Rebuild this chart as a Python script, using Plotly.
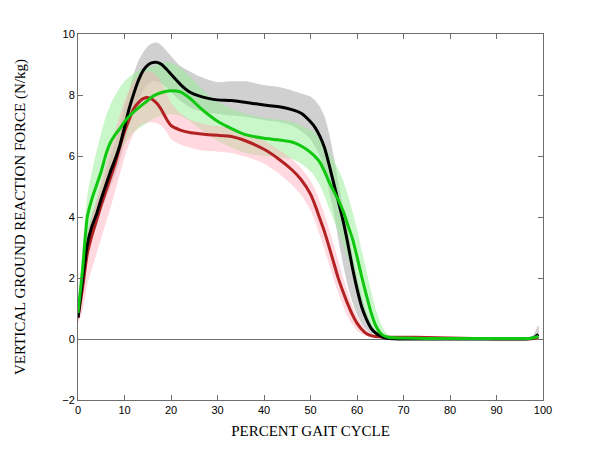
import plotly.graph_objects as go

# Percent gait cycle sample points
gait_pct = [0, 1, 2, 3, 4, 5, 6, 7, 8, 9, 10, 11, 12, 13, 14, 15, 16, 17, 18, 19, 20,
            22, 24, 26, 28, 30, 33, 36, 40, 43, 46, 48, 50,
            51, 52, 53, 54, 55, 56, 57, 58, 59, 60, 61, 62, 63, 64, 65, 66, 67, 68,
            70, 75, 80, 85, 90, 95, 97, 98, 99]

# Black group (mean, upper, lower)
black_mean = [0.7, 1.95, 3.1, 3.7, 4.1, 4.6, 5.05, 5.5, 5.9, 6.35, 6.95, 7.55, 8.05, 8.48, 8.8, 8.98, 9.06, 9.07, 9.0, 8.85, 8.68,
              8.35, 8.1, 7.97, 7.89, 7.84, 7.82, 7.76, 7.67, 7.62, 7.52, 7.4, 7.12,
              6.93, 6.65, 6.28, 5.72, 5.1, 4.5, 3.88, 3.15, 2.35, 1.65, 1.06, 0.66, 0.36, 0.2, 0.1, 0.04, 0.02, 0.01,
              0.0, 0.0, 0.0, 0.0, 0.0, 0.0, 0.01, 0.04, 0.15]
black_upper = [0.9, 2.3, 3.5, 4.1, 4.5, 5.0, 5.5, 6.0, 6.45, 7.0, 7.6, 8.15, 8.7, 9.12, 9.4, 9.6, 9.7, 9.72, 9.62, 9.45, 9.28,
               8.95, 8.78, 8.62, 8.5, 8.42, 8.45, 8.45, 8.33, 8.27, 8.15, 8.05, 7.95,
               7.82, 7.62, 7.3, 6.75, 6.0, 5.15, 4.35, 3.6, 2.8, 2.05, 1.4, 0.9, 0.52, 0.27, 0.13, 0.06, 0.03, 0.02,
               0.01, 0.01, 0.01, 0.01, 0.01, 0.02, 0.05, 0.15, 0.45]
black_lower = [0.55, 1.6, 2.7, 3.3, 3.7, 4.2, 4.6, 5.0, 5.4, 5.85, 6.4, 6.95, 7.42, 7.82, 8.15, 8.35, 8.45, 8.45, 8.38, 8.25, 8.1,
               7.8, 7.6, 7.48, 7.42, 7.38, 7.33, 7.29, 7.18, 7.12, 7.0, 6.82, 6.55,
               6.3, 6.0, 5.55, 4.85, 4.15, 3.25, 2.45, 1.75, 1.22, 0.8, 0.5, 0.3, 0.16, 0.08, 0.03, 0.01, 0.0, 0.0,
               0.0, -0.01, -0.01, -0.01, -0.01, -0.01, -0.01, -0.01, -0.02]

# Red group
red_mean = [0.7, 1.7, 2.8, 3.4, 3.9, 4.4, 4.85, 5.3, 5.75, 6.3, 6.8, 7.2, 7.55, 7.75, 7.88, 7.92, 7.85, 7.72, 7.5, 7.22, 7.0,
            6.85, 6.77, 6.73, 6.7, 6.68, 6.64, 6.5, 6.22, 5.92, 5.55, 5.22, 4.75,
            4.38, 3.95, 3.52, 3.02, 2.5, 1.98, 1.55, 1.15, 0.8, 0.52, 0.32, 0.18, 0.11, 0.08, 0.07, 0.06, 0.06, 0.06,
            0.06, 0.05, 0.03, 0.02, 0.01, 0.01, 0.01, 0.02, 0.05]
red_upper = [0.9, 2.1, 3.3, 4.0, 4.6, 5.2, 5.75, 6.3, 6.85, 7.35, 7.8, 8.15, 8.45, 8.65, 8.75, 8.78, 8.75, 8.62, 8.4, 8.08, 7.75,
             7.4, 7.2, 7.1, 7.02, 6.98, 6.9, 6.72, 6.5, 6.22, 5.9, 5.6, 5.2,
             4.9, 4.5, 4.1, 3.6, 3.1, 2.55, 2.02, 1.55, 1.1, 0.75, 0.48, 0.28, 0.17, 0.12, 0.1, 0.09, 0.08, 0.08,
             0.08, 0.07, 0.05, 0.04, 0.03, 0.03, 0.03, 0.04, 0.08]
red_lower = [0.5, 0.95, 1.8, 2.3, 2.8, 3.3, 3.8, 4.3, 4.85, 5.4, 5.95, 6.4, 6.75, 6.95, 7.05, 7.1, 7.1, 7.07, 6.98, 6.8, 6.55,
             6.38, 6.28, 6.2, 6.16, 6.14, 6.1, 5.98, 5.75, 5.45, 5.05, 4.72, 4.22,
             3.85, 3.4, 2.95, 2.45, 1.95, 1.5, 1.1, 0.75, 0.48, 0.28, 0.16, 0.1, 0.06, 0.05, 0.04, 0.03, 0.03, 0.03,
             0.03, 0.02, 0.01, 0.0, 0.0, 0.0, 0.0, 0.0, 0.0]

# Green group
green_mean = [0.85, 2.3, 4.0, 4.6, 5.05, 5.5, 6.05, 6.45, 6.7, 6.9, 7.12, 7.3, 7.45, 7.58, 7.7, 7.82, 7.95, 8.03, 8.08, 8.12, 8.14,
              8.1, 7.9, 7.62, 7.36, 7.14, 6.9, 6.7, 6.58, 6.53, 6.46, 6.33, 6.12,
              5.98, 5.8, 5.5, 5.15, 4.85, 4.55, 4.2, 3.75, 3.3, 2.7, 2.05, 1.45, 0.88, 0.45, 0.2, 0.09, 0.05, 0.04,
              0.03, 0.02, 0.02, 0.02, 0.02, 0.02, 0.02, 0.04, 0.08]
green_upper = [1.1, 3.0, 4.7, 5.5, 6.15, 6.75, 7.3, 7.7, 8.0, 8.25, 8.45, 8.6, 8.7, 8.8, 8.85, 8.9, 8.95, 9.0, 9.05, 9.07, 9.06,
               8.9, 8.62, 8.3, 8.0, 7.78, 7.55, 7.38, 7.25, 7.2, 7.12, 7.0, 6.85,
               6.75, 6.6, 6.35, 6.1, 5.85, 5.55, 5.2, 4.75, 4.2, 3.6, 2.9, 2.25, 1.6, 1.0, 0.55, 0.25, 0.12, 0.07,
               0.05, 0.04, 0.04, 0.04, 0.04, 0.04, 0.04, 0.06, 0.1]
green_lower = [0.6, 1.8, 3.3, 3.9, 4.3, 4.7, 5.15, 5.55, 5.9, 6.15, 6.4, 6.6, 6.78, 6.9, 7.0, 7.1, 7.2, 7.28, 7.33, 7.36, 7.37,
               7.32, 7.15, 6.92, 6.7, 6.5, 6.28, 6.1, 6.0, 5.96, 5.9, 5.75, 5.5,
               5.3, 5.05, 4.7, 4.3, 3.9, 3.5, 3.1, 2.65, 2.2, 1.7, 1.2, 0.75, 0.4, 0.18, 0.07, 0.03, 0.02, 0.02,
               0.01, 0.0, 0.0, 0.0, 0.0, 0.0, 0.0, 0.0, 0.0]

x_ticks = [0, 10, 20, 30, 40, 50, 60, 70, 80, 90, 100]
y_ticks = [-2, 0, 2, 4, 6, 8, 10]

fig = go.Figure()


def add_band(upper, lower, color):
    fig.add_trace(go.Scatter(
        x=gait_pct + gait_pct[::-1],
        y=upper + lower[::-1],
        fill="toself", fillcolor=color,
        line=dict(width=0, shape="spline", smoothing=0.6),
        mode="lines", hoverinfo="skip", showlegend=False))


add_band(black_upper, black_lower, "rgba(170,170,170,0.55)")
add_band(green_upper, green_lower, "rgba(150,240,150,0.5)")
add_band(red_upper, red_lower, "rgba(255,170,185,0.45)")

for ys, col in [(red_mean, "#b22222"), (black_mean, "#000000"), (green_mean, "#10c810")]:
    fig.add_trace(go.Scatter(
        x=gait_pct, y=ys, mode="lines",
        line=dict(color=col, width=3, shape="spline", smoothing=0.6),
        showlegend=False))

axis_common = dict(
    showgrid=False, showline=True, linecolor="#6e6e6e", linewidth=1,
    mirror="ticks", ticks="inside", ticklen=5, tickcolor="#6e6e6e",
    automargin=False,
    tickfont=dict(family="Liberation Sans, Arial", size=11, color="#000"),
)

fig.update_layout(
    width=600, height=450,
    paper_bgcolor="white", plot_bgcolor="white",
    margin=dict(l=70, r=65, t=26, b=58),
    xaxis=dict(range=[0, 100], tickvals=x_ticks, zeroline=False,
               title=dict(text="PERCENT GAIT CYCLE", standoff=10,
                          font=dict(family="Liberation Serif, Times New Roman", size=15, color="#000")),
               **axis_common),
    yaxis=dict(range=[-2, 10], tickvals=y_ticks,
               zeroline=True, zerolinecolor="#6e6e6e", zerolinewidth=1,
               title=dict(text="VERTICAL GROUND REACTION FORCE (N/kg)", standoff=33,
                          font=dict(family="Liberation Serif, Times New Roman", size=15, color="#000")),
               **axis_common),
)

fig.write_html("out.html")
